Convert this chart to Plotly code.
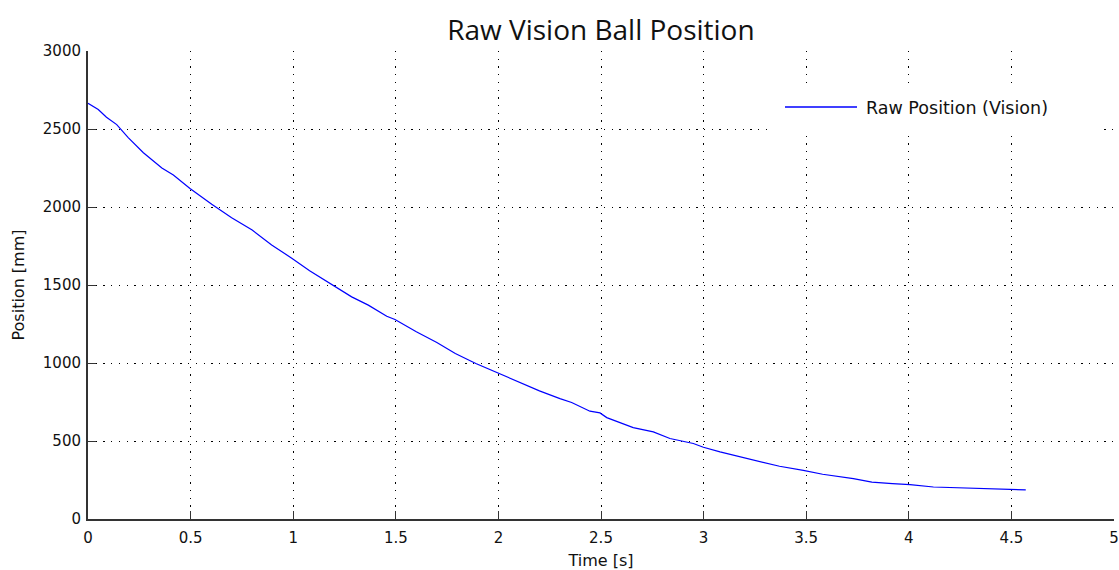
import plotly.graph_objects as go

# Ball position measured by the vision system
time_s = [0.0, 0.013, 0.05, 0.09, 0.14, 0.196, 0.27, 0.36, 0.416, 0.497, 0.603,
          0.70, 0.80, 0.895, 0.993, 1.08, 1.18, 1.285, 1.366, 1.456, 1.496, 1.60,
          1.70, 1.79, 1.89, 1.99, 2.08, 2.20, 2.30, 2.357, 2.446, 2.495, 2.528,
          2.657, 2.755, 2.836, 2.95, 2.999, 3.08, 3.18, 3.275, 3.37, 3.486, 3.58,
          3.73, 3.82, 3.92, 4.006, 4.12, 4.28, 4.44, 4.57]
position_mm = [2665, 2655, 2625, 2575, 2528, 2445, 2348, 2250, 2205, 2119, 2017,
               1931, 1852, 1756, 1672, 1591, 1510, 1424, 1371, 1300, 1279, 1200,
               1131, 1061, 997, 940, 890, 821, 772, 747, 691, 680, 650,
               586, 558, 516, 484, 460, 430, 398, 366, 338, 312, 287,
               259, 237, 227, 220, 205, 199, 189, 187]

x_ticks = [0, 0.5, 1, 1.5, 2, 2.5, 3, 3.5, 4, 4.5, 5]
x_tick_text = ["0", "0.5", "1", "1.5", "2", "2.5", "3", "3.5", "4", "4.5", "5"]
y_ticks = [0, 500, 1000, 1500, 2000, 2500, 3000]

title_text = "Raw Vision Ball Position"
legend_text = "Raw Position (Vision)"
line_color = "#0000FF"

W, H = 1119, 570
L, R, T, B = 88, 5, 51, 51
pw, ph = W - L - R, H - T - B


def px_x(p):
    return (p - L) / pw


def px_y(p):
    return (H - B - p) / ph


fig = go.Figure()
fig.add_trace(go.Scatter(
    x=time_s, y=position_mm, mode="lines", name=legend_text,
    line=dict(color=line_color, width=1.2), showlegend=False,
))

text_color = "#111111"
tick_font = dict(family="DejaVu Sans", size=15, color=text_color)
axis_common = dict(
    showgrid=True, gridcolor="#000000", gridwidth=1.3, griddash="1.3px,6.4px",
    showline=True, linecolor="#333333", linewidth=2,
    ticks="inside", ticklen=8, tickcolor="#333333", tickwidth=1.3,
    zeroline=False, tickfont=tick_font, automargin=False,
)

fig.update_xaxes(range=[0, 5], tickvals=x_ticks, ticktext=x_tick_text,
                 ticklabelstandoff=4,
                 title=dict(text="Time [s]", font=dict(family="DejaVu Sans", size=16, color=text_color),
                            standoff=10),
                 **axis_common)
fig.update_yaxes(range=[0, 3000], tickvals=y_ticks, ticklabelstandoff=2,
                 title=dict(text="Position [mm]", font=dict(family="DejaVu Sans", size=16, color=text_color),
                            standoff=14),
                 **axis_common)

# Legend box drawn by hand so the sample line has its full length
fig.add_shape(type="rect", xref="paper", yref="paper",
              x0=px_x(771), x1=px_x(1100), y0=px_y(131), y1=px_y(83),
              fillcolor="white", line=dict(width=0), layer="above")
fig.add_shape(type="line", xref="paper", yref="paper",
              x0=px_x(785), x1=px_x(857), y0=px_y(107), y1=px_y(107),
              line=dict(color=line_color, width=1.5), layer="above")
fig.add_annotation(xref="paper", yref="paper", x=px_x(864), y=px_y(108),
                   text=legend_text, showarrow=False, xanchor="left", yanchor="middle",
                   font=dict(family="DejaVu Sans", size=17.5, color=text_color))

fig.update_layout(
    width=W, height=H,
    margin=dict(l=L, r=R, t=T, b=B, autoexpand=False),
    paper_bgcolor="white", plot_bgcolor="white",
    title=dict(text=title_text, x=0.537, xanchor="center", y=1 - 30 / H, yanchor="middle",
               font=dict(family="Open Sans", size=28, color=text_color)),
)

fig.write_html("out.html")
